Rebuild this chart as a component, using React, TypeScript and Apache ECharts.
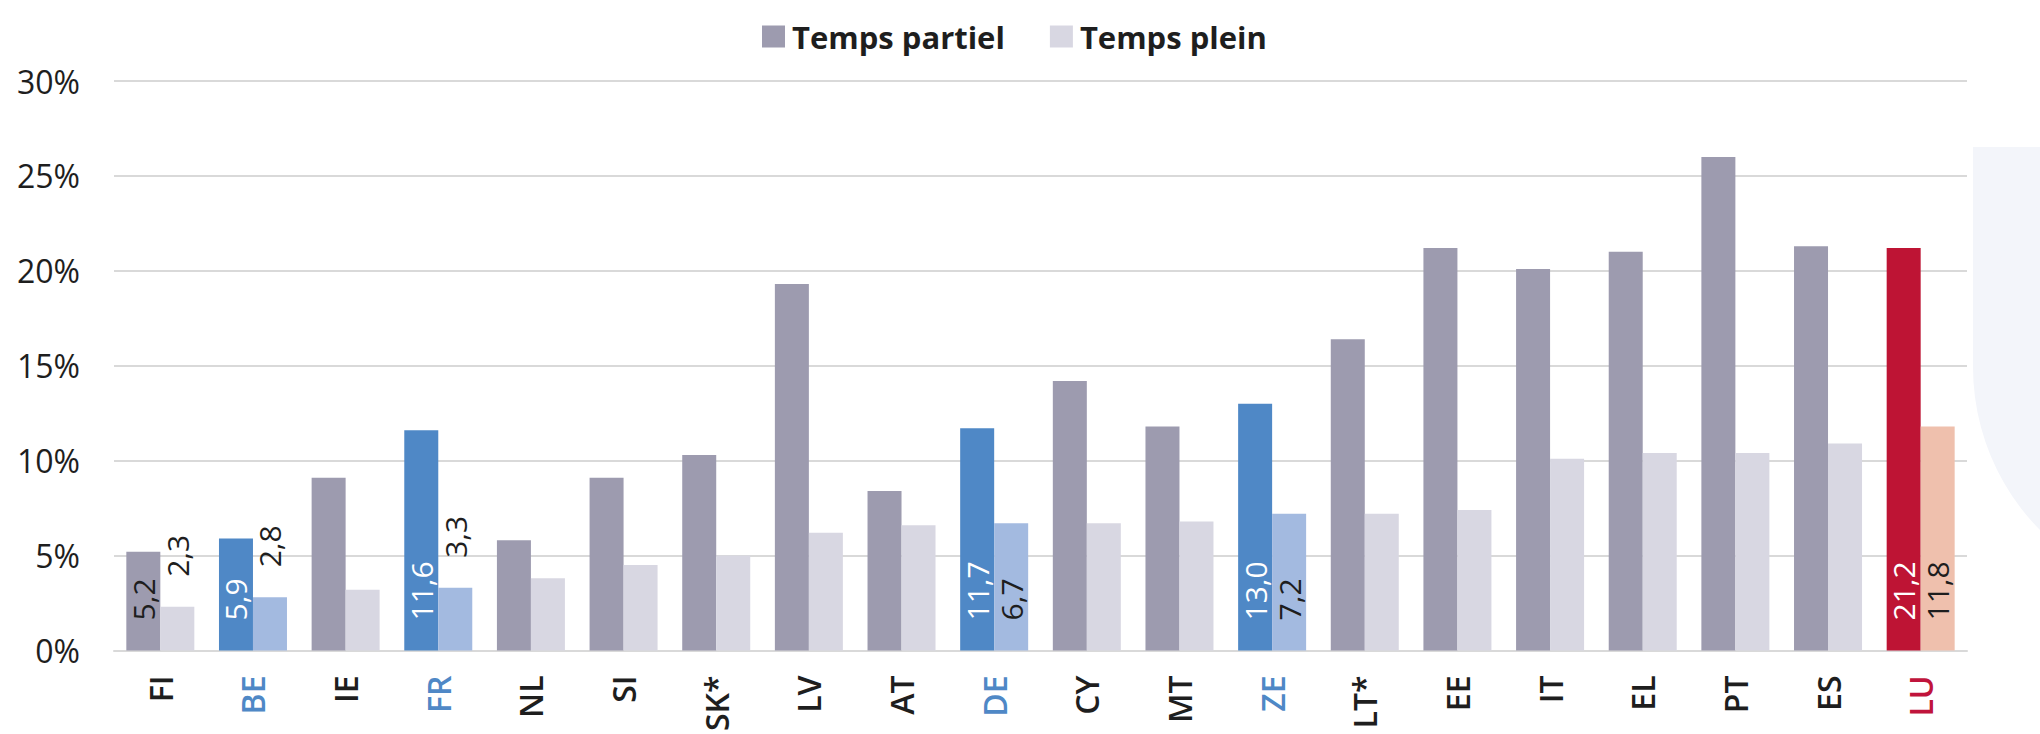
import React, { useEffect, useRef } from "react";
import * as echarts from "echarts";

const categories = ["FI", "BE", "IE", "FR", "NL", "SI", "SK*", "LV", "AT", "DE", "CY", "MT", "ZE", "LT*", "EE", "IT", "EL", "PT", "ES", "LU"];
const partTime = [5.2, 5.9, 9.1, 11.6, 5.8, 9.1, 10.3, 19.3, 8.4, 11.7, 14.2, 11.8, 13.0, 16.4, 21.2, 20.1, 21.0, 26.0, 21.3, 21.2];
const fullTime = [2.3, 2.8, 3.2, 3.3, 3.8, 4.5, 5.0, 6.2, 6.6, 6.7, 6.7, 6.8, 7.2, 7.2, 7.4, 10.1, 10.4, 10.4, 10.9, 11.8];
const yTicks = [0, 5, 10, 15, 20, 25, 30];

const blueCats = ["BE", "FR", "DE", "ZE"];
const redCats = ["LU"];
const labelledCats = ["FI", "BE", "FR", "DE", "ZE", "LU"];
const fullLabelTop = ["FI", "BE", "FR"];

const C = {
  dark: "#9d9baf",
  light: "#d8d7e2",
  blue: "#4f88c6",
  blueLight: "#a3bae0",
  red: "#be1434",
  redLight: "#efc0ad",
  text: "#1e1e1e",
  grid: "#d9d9d9",
};

const FONT = "'Open Sans', 'Noto Sans', sans-serif";
const fmt = (v: number) => v.toFixed(1).replace(".", ",");

export default function App() {
  const ref = useRef<HTMLDivElement>(null);
  useEffect(() => {
    document.body.style.margin = "0";
    const chart = echarts.init(ref.current!, null, { renderer: "svg" });

    const partData = partTime.map((v, i) => {
      const cat = categories[i];
      const isBlue = blueCats.includes(cat);
      const isRed = redCats.includes(cat);
      const color = isBlue ? C.blue : isRed ? C.red : C.dark;
      const item: any = { value: v, itemStyle: { color } };
      if (labelledCats.includes(cat)) {
        item.label = {
          show: true,
          position: "insideBottom",
          distance: 30,
          rotate: 90,
          align: "left",
          verticalAlign: "middle",
          color: isBlue || isRed ? "#ffffff" : C.text,
          fontSize: 30,
          fontFamily: FONT,
          formatter: (p: any) => fmt(p.value),
        };
      }
      return item;
    });

    const fullData = fullTime.map((v, i) => {
      const cat = categories[i];
      const isBlue = blueCats.includes(cat);
      const isRed = redCats.includes(cat);
      const color = isBlue ? C.blueLight : isRed ? C.redLight : C.light;
      const item: any = { value: v, itemStyle: { color } };
      if (labelledCats.includes(cat)) {
        const top = fullLabelTop.includes(cat);
        item.label = {
          show: true,
          position: top ? "top" : "insideBottom",
          distance: 30,
          rotate: 90,
          align: "left",
          verticalAlign: "middle",
          color: C.text,
          fontSize: 30,
          fontFamily: FONT,
          formatter: (p: any) => fmt(p.value),
        };
      }
      return item;
    });

    chart.setOption({
      animation: false,
      textStyle: { fontFamily: FONT },
      graphic: [
        { type: "rect", z: 0, shape: { x: 1973, y: 147, width: 67, height: 222 }, style: { fill: "#f3f5fa" } },
        { type: "circle", z: 0, shape: { cx: 2205, cy: 367, r: 232 }, style: { fill: "#f3f5fa" } },
      ],
      legend: {
        left: 757,
        top: 16,
        itemWidth: 23,
        itemHeight: 22,
        itemGap: 45,
        icon: "rect",
        textStyle: { fontSize: 31, fontWeight: "bold", color: C.text, fontFamily: FONT, padding: [0, 0, 0, 2] },
        data: ["Temps partiel", "Temps plein"],
      },
      grid: { left: 114, right: 73, top: 81, bottom: 76, containLabel: false },
      xAxis: {
        type: "category",
        data: categories,
        axisLine: { show: true, lineStyle: { color: C.grid, width: 2 } },
        axisTick: { show: false },
        axisLabel: {
          rotate: 90,
          margin: 25,
          fontSize: 32,
          fontWeight: 600,
          fontFamily: FONT,
          interval: 0,
          color: (value: string) =>
            blueCats.includes(value) ? C.blue : redCats.includes(value) ? "#c0143c" : C.text,
        },
      },
      yAxis: {
        type: "value",
        min: yTicks[0],
        max: yTicks[yTicks.length - 1],
        interval: 5,
        axisLine: { show: false },
        axisTick: { show: false },
        splitLine: { lineStyle: { color: C.grid, width: 2 } },
        axisLabel: { formatter: "{value}%", fontSize: 32, color: C.text, margin: 34, fontFamily: FONT },
      },
      series: [
        { name: "Temps partiel", type: "bar", barWidth: 34, barGap: "0%", itemStyle: { color: C.dark }, data: partData },
        { name: "Temps plein", type: "bar", barWidth: 34, barGap: "0%", itemStyle: { color: C.light }, data: fullData },
      ],
    });
    return () => chart.dispose();
  }, []);
  return <div ref={ref} style={{ width: 2040, height: 734 }} />;
}
